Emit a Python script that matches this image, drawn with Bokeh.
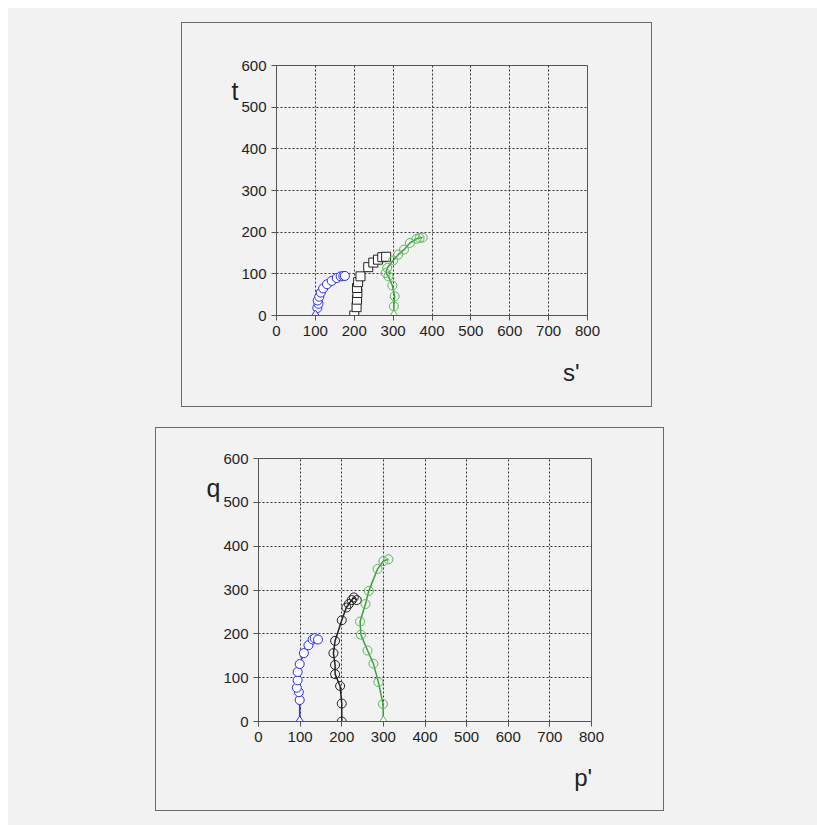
from bokeh.plotting import figure
from bokeh.layouts import column
from bokeh.models import FixedTicker, Range1d, LinearAxis
from bokeh.embed import file_html
from bokeh.resources import INLINE

# ---- data: top panel (s', t) ----
top_blue_s = [100, 105, 108, 106, 110, 114, 120, 130, 142, 155, 165, 172, 176]
top_blue_t = [0, 18, 28, 36, 45, 55, 65, 75, 83, 90, 94, 95, 95]
top_black_s = [200, 206, 207, 208, 207, 210, 216, 236, 249, 261, 272, 282]
top_black_t = [0, 20, 38, 54, 66, 80, 94, 116, 127, 134, 140, 141]
top_green_s = [302, 302, 304, 298, 288, 281, 285, 300, 313, 328, 343, 360, 368, 376]
top_green_t = [0, 22, 46, 72, 94, 102, 114, 132, 146, 158, 174, 184, 186, 187]

# ---- data: bottom panel (p', q) ----
bot_blue_p = [99, 99, 97, 92, 94, 94, 99, 109, 120, 130, 135, 143]
bot_blue_q = [0, 49, 67, 77, 94, 113, 131, 156, 174, 187, 190, 187]
bot_black_p = [200, 200, 196, 184, 184, 180, 184, 200, 211, 217, 224, 229, 236]
bot_black_q = [0, 41, 81, 108, 129, 156, 184, 231, 260, 268, 277, 283, 277]
bot_green_p = [300, 299, 288, 276, 262, 246, 244, 257, 265, 286, 300, 312]
bot_green_q = [0, 40, 90, 132, 162, 198, 228, 268, 298, 348, 366, 370]

x_ticks = [0, 100, 200, 300, 400, 500, 600, 700, 800]
y_ticks = [0, 100, 200, 300, 400, 500, 600]

BG = "#f2f2f2"
BLUE = "#2b2bff"
BLACK = "#222222"
GREEN = "#3f9f3f"
GREEN_M = "#5cb85c"
FONT = "Liberation Sans"


def name_axis(where_value, text, size, standoff):
    ax = LinearAxis(ticker=FixedTicker(ticks=[where_value]),
                    major_label_overrides={where_value: text})
    ax.axis_line_color = None
    ax.major_tick_line_color = None
    ax.minor_tick_line_color = None
    ax.major_tick_in = 0
    ax.major_tick_out = 0
    ax.major_label_text_font = FONT
    ax.major_label_text_font_size = size
    ax.major_label_text_color = "#222222"
    ax.major_label_standoff = standoff
    return ax


def make_fig(w, h, ml, mr, mt, mb, xlab, ylab, xlab_pos, ylab_pos, xstand, ystand):
    p = figure(width=w, height=h, output_backend="svg", toolbar_location=None,
               x_range=Range1d(0, 800), y_range=Range1d(0, 600),
               min_border_left=ml, min_border_right=mr,
               min_border_top=mt, min_border_bottom=mb)
    p.background_fill_color = BG
    p.border_fill_color = BG
    p.outline_line_color = "#555555"
    p.outline_line_width = 1
    for ax, ticks in ((p.xaxis[0], x_ticks), (p.yaxis[0], y_ticks)):
        ax.ticker = FixedTicker(ticks=ticks)
        ax.minor_tick_line_color = None
        ax.major_tick_in = 0
        ax.major_tick_out = 5
        ax.axis_line_color = "#555555"
        ax.major_tick_line_color = "#555555"
        ax.major_label_text_font = FONT
        ax.major_label_text_font_size = "15px"
        ax.major_label_text_color = "#222222"
        ax.major_label_standoff = 5
    for g in (p.xgrid[0], p.ygrid[0]):
        g.grid_line_color = "#333333"
        g.grid_line_dash = "2 2"
        g.grid_line_width = 1
    p.add_layout(name_axis(xlab_pos, xlab, "24px", xstand), "below")
    p.add_layout(name_axis(ylab_pos, ylab, "25px", ystand), "left")
    return p


def series(p, xs, ys, line_color, marker, mcolor, fill, first_diamond=False):
    p.line(xs, ys, line_color=line_color, line_width=1.5)
    sx = xs[1:] if first_diamond else xs
    sy = ys[1:] if first_diamond else ys
    p.scatter(sx, sy, marker=marker, size=9, line_color=mcolor, line_width=1,
              fill_color=fill)
    if first_diamond:
        p.scatter(xs[:1], ys[:1], marker="diamond", size=11, line_color=mcolor,
                  line_width=1, fill_color="white")


p1 = make_fig(471, 385, 94, 66, 42, 93, "s'", "t", 758, 538, 20, 0)
series(p1, top_blue_s, top_blue_t, BLUE, "circle", BLUE, "white", True)
series(p1, top_black_s, top_black_t, BLACK, "square", BLACK, "white")
series(p1, top_green_s, top_green_t, GREEN, "circle", GREEN_M, None, True)

p2 = make_fig(509, 384, 102, 74, 30, 91, "p'", "q", 780, 532, 19, 0)
series(p2, bot_blue_p, bot_blue_q, BLUE, "circle", BLUE, "white", True)
series(p2, bot_black_p, bot_black_q, BLACK, "circle", BLACK, None)
series(p2, bot_green_p, bot_green_q, GREEN, "circle", GREEN_M, None, True)

p1.styles = {"border": "1.5px solid #6a6a6a"}
p2.styles = {"border": "1.5px solid #6a6a6a"}
p1.margin = (14, 0, 0, 173)
p2.margin = (20, 0, 0, 147)

layout = column(column(p1), column(p2), width=809, height=817, margin=(8, 0, 0, 8),
                styles={"background-color": BG})

open("out.html", "w").write(file_html(layout, INLINE))
